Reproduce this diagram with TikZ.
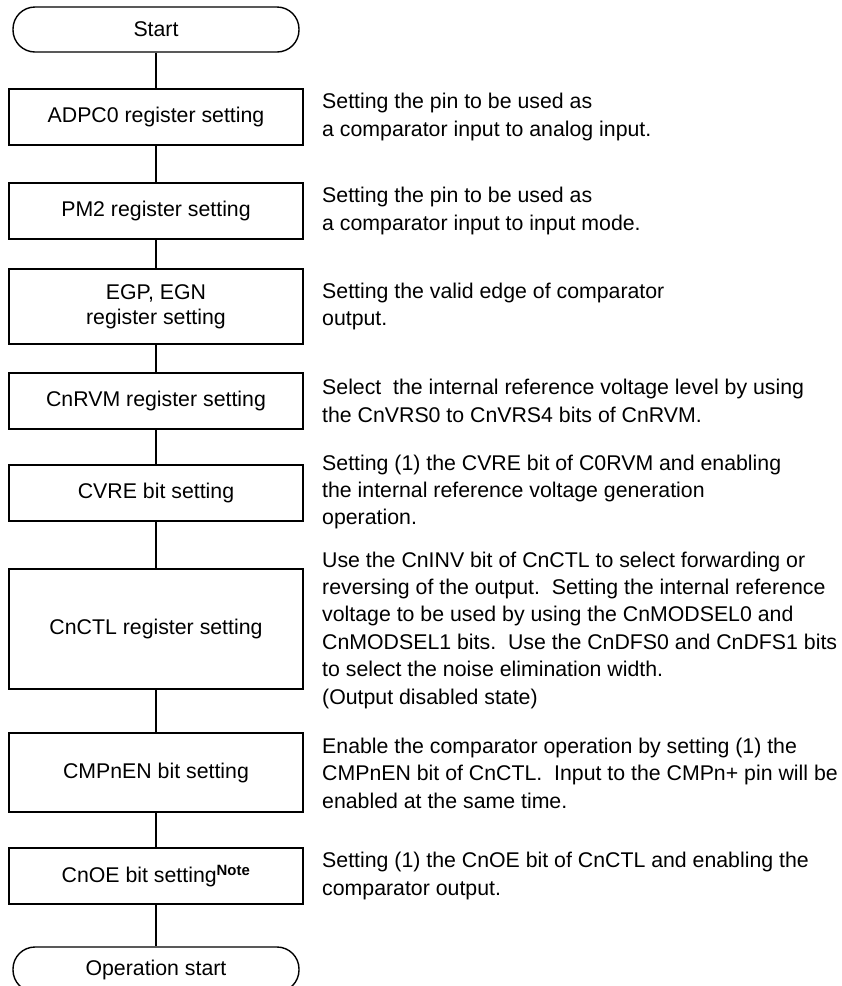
\documentclass[tikz,border=0pt]{standalone}
\usepackage{fontspec}
\setmainfont{Liberation Sans}
\newcommand\fs{\fontsize{21.3}{27.4}\selectfont}
\begin{document}
\begin{tikzpicture}[x=1pt,y=-1pt,
  box/.style={draw, line width=1.4pt, minimum width=294pt, inner sep=0pt, align=center, font=\fs},
  term/.style={draw, line width=1.4pt, rounded corners=22pt, minimum width=286pt, minimum height=45pt, inner sep=0pt, font=\fs},
  note/.style={anchor=west, align=left, inner sep=0pt, font=\fs},
  link/.style={line width=1.4pt}]
\useasboundingbox (0,0) rectangle (842,986);

\node[term] (start) at (156,29.5) {Start};
\node[box, minimum height=56pt] (adpc) at (156,117) {ADPC0 register setting};
\node[box, minimum height=56pt] (pm2) at (156,211) {PM2 register setting};
\node[box, minimum height=75pt, font=\fontsize{21.3}{25}\selectfont] (egp) at (156,306.5) {EGP, EGN\\register setting};
\node[box, minimum height=56pt] (cnrvm) at (156,401) {CnRVM register setting};
\node[box, minimum height=56pt] (cvre) at (156,493) {CVRE bit setting};
\node[box, minimum height=120pt] (cnctl) at (156,629) {CnCTL register setting};
\node[box, minimum height=79pt] (cmpnen) at (156,772.5) {CMPnEN bit setting};
\node[box, minimum height=56pt] (cnoe) at (156,876) {CnOE bit setting\textsuperscript{\bfseries Note}};
\node[term] (op) at (156,969.5) {Operation start};

\draw[link] (start) -- (adpc);
\draw[link] (adpc) -- (pm2);
\draw[link] (pm2) -- (egp);
\draw[link] (egp) -- (cnrvm);
\draw[link] (cnrvm) -- (cvre);
\draw[link] (cvre) -- (cnctl);
\draw[link] (cnctl) -- (cmpnen);
\draw[link] (cmpnen) -- (cnoe);
\draw[link] (cnoe) -- (op);

\node[note] (t1) at (322,117) {Setting the pin to be used as\\a comparator input to analog input.};
\node[note] (t2) at (322,211) {Setting the pin to be used as\\a comparator input to input mode.};
\node[note] (t3) at (322,306.5) {Setting the valid edge of comparator\\output.};
\node[note] (t4) at (322,401) {Select\ \ the internal reference voltage level by using\\the CnVRS0 to CnVRS4 bits of CnRVM.};
\node[note] (t5) at (322,492) {Setting (1) the CVRE bit of C0RVM and enabling\\the internal reference voltage generation\\operation.};
\node[note] (t6) at (322,630) {Use the CnINV bit of CnCTL to select forwarding or\\reversing of the output.\ \ Setting the internal reference\\voltage to be used by using the CnMODSEL0 and\\CnMODSEL1 bits.\ \ Use the CnDFS0 and CnDFS1 bits\\to select the noise elimination width.\\(Output disabled state)};
\node[note] (t7) at (322,773) {Enable the comparator operation by setting (1) the\\CMPnEN bit of CnCTL.\ \ Input to the CMPn+ pin will be\\enabled at the same time.};
\node[note] (t8) at (322,876) {Setting (1) the CnOE bit of CnCTL and enabling the\\comparator output.};
\end{tikzpicture}
\end{document}
